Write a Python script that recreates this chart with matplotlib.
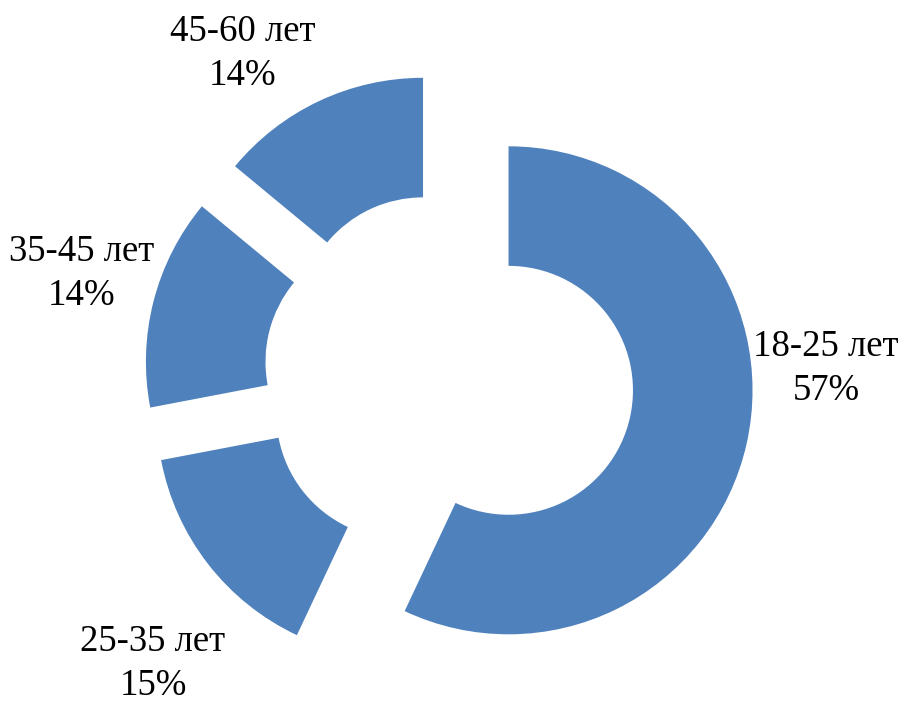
import matplotlib
matplotlib.use("Agg")
import matplotlib.pyplot as plt

categories = ["18-25 лет", "25-35 лет", "35-45 лет", "45-60 лет"]
shares = [57, 15, 14, 14]
pct_labels = ["57%", "15%", "14%", "14%"]
label_pos = [(826, 369), (153, 664), (82, 274), (243, 54)]  # pixel coords (y down)

W, H = 905, 704
fig = plt.figure(figsize=(W / 100, H / 100), dpi=100)
ax = fig.add_axes([0, 0, 1, 1])

R = 244
center = (449, H - 377)
ax.pie(shares, radius=R, center=center, startangle=90, counterclock=False,
       explode=[61] * len(shares), colors=["#4F81BD"] * len(shares),
       wedgeprops=dict(width=R * 0.49, linewidth=0), frame=True)
ax.set_xlim(0, W)
ax.set_ylim(0, H)
ax.set_aspect("equal")
ax.axis("off")

for cat, pct, (x, y) in zip(categories, pct_labels, label_pos):
    ax.text(x, H - y, f"{cat}\n{pct}", ha="center", va="center",
            multialignment="center", fontsize=26.5, linespacing=1.35,
            family=["Liberation Serif", "DejaVu Serif"], color="black")

fig.savefig("out.png", dpi=100)
